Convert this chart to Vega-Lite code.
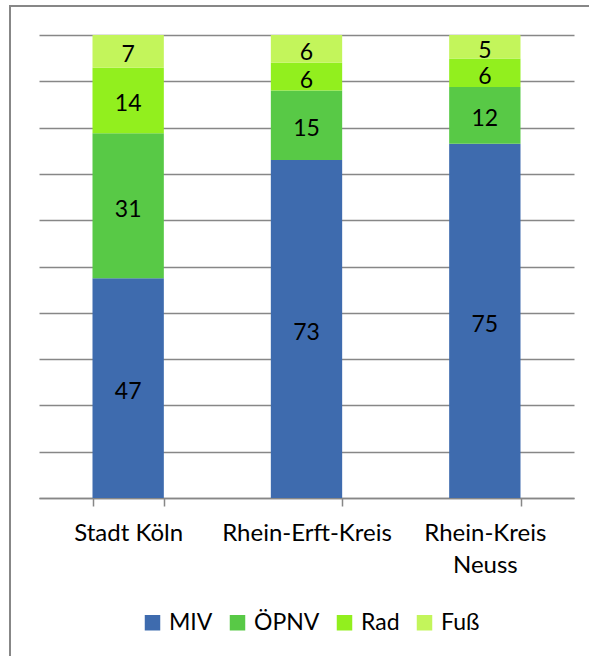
{
  "$schema": "https://vega.github.io/schema/vega-lite/v6.json",
  "autosize": {"type": "none"},
  "padding": {"left": 10, "top": 6, "right": 0, "bottom": 0},
  "width": 600,
  "height": 660,
  "background": "white",
  "config": {
    "view": {"stroke": "#878787", "strokeWidth": 2},
    "font": "Lato"
  },
  "data": {
    "values": [
      {"kreis": "Stadt Köln", "modus": "MIV", "rang": 1, "anteil": 47},
      {"kreis": "Stadt Köln", "modus": "ÖPNV", "rang": 2, "anteil": 31},
      {"kreis": "Stadt Köln", "modus": "Rad", "rang": 3, "anteil": 14},
      {"kreis": "Stadt Köln", "modus": "Fuß", "rang": 4, "anteil": 7},
      {"kreis": "Rhein-Erft-Kreis", "modus": "MIV", "rang": 1, "anteil": 73},
      {"kreis": "Rhein-Erft-Kreis", "modus": "ÖPNV", "rang": 2, "anteil": 15},
      {"kreis": "Rhein-Erft-Kreis", "modus": "Rad", "rang": 3, "anteil": 6},
      {"kreis": "Rhein-Erft-Kreis", "modus": "Fuß", "rang": 4, "anteil": 6},
      {"kreis": "Rhein-Kreis Neuss", "modus": "MIV", "rang": 1, "anteil": 75},
      {"kreis": "Rhein-Kreis Neuss", "modus": "ÖPNV", "rang": 2, "anteil": 12},
      {"kreis": "Rhein-Kreis Neuss", "modus": "Rad", "rang": 3, "anteil": 6},
      {"kreis": "Rhein-Kreis Neuss", "modus": "Fuß", "rang": 4, "anteil": 5}
    ]
  },
  "encoding": {
    "x": {
      "field": "kreis",
      "type": "nominal",
      "sort": ["Stadt Köln", "Rhein-Erft-Kreis", "Rhein-Kreis Neuss"],
      "scale": {"range": [29, 564], "paddingInner": 0.6, "paddingOuter": 0.3},
      "axis": {
        "title": null,
        "orient": "bottom",
        "offset": -168,
        "grid": false,
        "domainColor": "#878787",
        "domainWidth": 1.5,
        "tickColor": "#878787",
        "tickWidth": 1.5,
        "tickSize": 8,
        "tickBand": "extent",
        "labelAngle": 0,
        "labelFont": "Lato",
        "labelFontSize": 24,
        "labelColor": "black",
        "labelPadding": 15,
        "labelLineHeight": 32,
        "labelExpr": "datum.label == 'Rhein-Kreis Neuss' ? ['Rhein-Kreis', 'Neuss'] : datum.label"
      }
    },
    "order": {"field": "rang", "type": "quantitative"}
  },
  "layer": [
    {
      "mark": {"type": "bar"},
      "encoding": {
        "y": {
          "field": "anteil",
          "type": "quantitative",
          "stack": "normalize",
          "scale": {"domain": [0, 1], "range": [492, 29]},
          "axis": {
            "title": null,
            "orient": "left",
            "offset": -564,
            "domain": false,
            "labels": false,
            "grid": false,
            "tickSize": 535,
            "tickColor": "#878787",
            "tickWidth": 1.5,
            "values": [0, 0.1, 0.2, 0.3, 0.4, 0.5, 0.6, 0.7, 0.8, 0.9, 1]
          }
        },
        "color": {
          "field": "modus",
          "type": "nominal",
          "scale": {
            "domain": ["MIV", "ÖPNV", "Rad", "Fuß"],
            "range": ["#3E6BAE", "#58C946", "#92EF1E", "#C3F55B"]
          },
          "legend": {
            "title": null,
            "orient": "none",
            "legendX": 131,
            "legendY": 605,
            "direction": "horizontal",
            "padding": 0,
            "symbolType": "square",
            "symbolSize": 240,
            "symbolStrokeWidth": 0,
            "labelFont": "Lato",
            "labelFontSize": 23,
            "labelColor": "black",
            "labelOffset": 5,
            "columnPadding": 13
          }
        }
      }
    },
    {
      "mark": {"type": "text", "font": "Lato", "fontSize": 23, "color": "black", "dy": 4},
      "encoding": {
        "y": {
          "field": "anteil",
          "type": "quantitative",
          "stack": "normalize",
          "bandPosition": 0.5,
          "scale": {"domain": [0, 1], "range": [492, 29]},
          "axis": {
            "title": null,
            "orient": "left",
            "offset": -564,
            "domain": false,
            "labels": false,
            "grid": false,
            "tickSize": 535,
            "tickColor": "#878787",
            "tickWidth": 1.5,
            "values": [0, 0.1, 0.2, 0.3, 0.4, 0.5, 0.6, 0.7, 0.8, 0.9, 1]
          }
        },
        "detail": {"field": "modus", "type": "nominal"},
        "text": {"field": "anteil", "type": "quantitative"}
      }
    }
  ]
}
